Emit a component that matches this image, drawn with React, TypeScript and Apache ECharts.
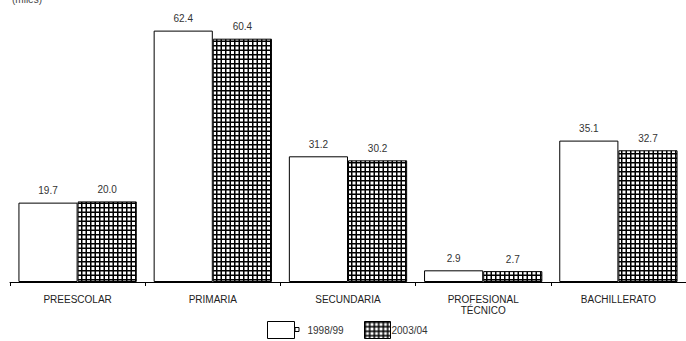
import React, { useEffect, useRef } from "react";
import * as echarts from "echarts";

const categories = ["PREESCOLAR", "PRIMARIA", "SECUNDARIA", "PROFESIONAL\nTÉCNICO", "BACHILLERATO"];
const series1998 = [19.7, 62.4, 31.2, 2.9, 35.1];
const series2003 = [20.0, 60.4, 30.2, 2.7, 32.7];
const seriesNames = ["1998/99", "2003/04"];

function makeHatch(): any {
  const c = document.createElement("canvas");
  c.width = 9;
  c.height = 9;
  const ctx = c.getContext("2d")!;
  ctx.fillStyle = "#ffffff";
  ctx.fillRect(0, 0, 9, 9);
  ctx.fillStyle = "#000000";
  ctx.fillRect(0, 0, 9, 1.5);
  ctx.fillRect(0, 4.5, 9, 1.5);
  ctx.fillRect(0, 0, 1.5, 9);
  ctx.fillRect(4.5, 0, 1.5, 9);
  return { image: c, repeat: "repeat" };
}

export default function App() {
  const ref = useRef<HTMLDivElement>(null);
  useEffect(() => {
    if (!ref.current) return;
    const chart = echarts.init(ref.current, undefined, { renderer: "svg" });
    const hatch = makeHatch();
    const font = "'Liberation Sans', Arial, sans-serif";
    const labelCfg = {
      show: true,
      position: "top",
      distance: 7,
      fontSize: 10,
      color: "#333",
      fontFamily: font,
      formatter: (p: any) => p.value.toFixed(1),
    };
    chart.setOption({
      animation: false,
      backgroundColor: "#ffffff",
      textStyle: { fontFamily: font },
      grid: { left: 10, right: 0, top: 0, bottom: 59, containLabel: false },
      graphic: [
        {
          type: "text",
          left: 12,
          top: -6,
          style: { text: "(miles)", font: `10px ${font}`, fill: "#444" },
        },
        {
          type: "rect",
          shape: { x: 295, y: 327.5, width: 4, height: 4 },
          style: { fill: "#fff", stroke: "#000", lineWidth: 1 },
        },
      ],
      legend: [
        {
          left: 262,
          top: 316,
          icon: "rect",
          itemWidth: 27,
          itemHeight: 17,
          textStyle: { fontSize: 10, color: "#333", fontFamily: font, padding: [0, 0, 0, 8] },
          data: [{ name: seriesNames[0], itemStyle: { color: "#ffffff", borderColor: "#000", borderWidth: 1 } }],
        },
        {
          left: 359,
          top: 316,
          icon: "rect",
          itemWidth: 26,
          itemHeight: 17,
          textStyle: { fontSize: 10, color: "#333", fontFamily: font, padding: [0, 0, 0, -4] },
          data: [{ name: seriesNames[1], itemStyle: { color: hatch, borderColor: "#000", borderWidth: 1 } }],
        },
      ],
      xAxis: {
        type: "category",
        data: categories,
        axisLine: { lineStyle: { color: "#000", width: 1 } },
        axisTick: { show: true, length: 4, lineStyle: { color: "#000" } },
        axisLabel: { color: "#222", fontSize: 10, margin: 12, lineHeight: 11, fontFamily: font, interval: 0 },
      },
      yAxis: {
        type: "value",
        min: 0,
        max: 70,
        show: false,
        splitLine: { show: false },
      },
      series: [
        {
          name: seriesNames[0],
          type: "bar",
          data: series1998,
          barGap: "0%",
          barCategoryGap: "12.5%",
          itemStyle: { color: "#ffffff", borderColor: "#000", borderWidth: 1 },
          label: labelCfg,
        },
        {
          name: seriesNames[1],
          type: "bar",
          data: series2003,
          barGap: "0%",
          barCategoryGap: "12.5%",
          itemStyle: { color: hatch, borderColor: "#000", borderWidth: 1 },
          label: labelCfg,
        },
      ],
    });
    return () => chart.dispose();
  }, []);
  return <div ref={ref} style={{ position: "absolute", left: 0, top: 0, width: 686, height: 341 }} />;
}
